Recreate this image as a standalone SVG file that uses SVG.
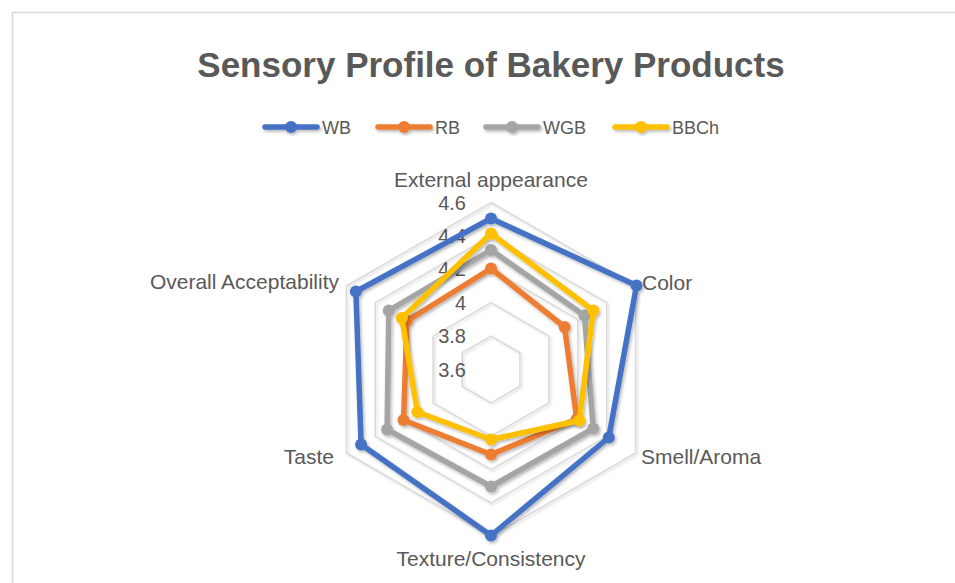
<svg xmlns="http://www.w3.org/2000/svg" width="955" height="583" viewBox="0 0 955 583">
  <defs>
    <filter id="shadow" x="-20%" y="-20%" width="140%" height="140%">
      <feDropShadow dx="1.5" dy="2" stdDeviation="1.5" flood-color="#000000" flood-opacity="0.28"/>
    </filter>
    <filter id="gshadow" x="-20%" y="-20%" width="140%" height="140%">
      <feDropShadow dx="1.5" dy="1.5" stdDeviation="1" flood-color="#000000" flood-opacity="0.15"/>
    </filter>
  </defs>
  <style>
    text { font-family: "Liberation Sans", Arial, sans-serif; fill: #595959; }
    .title { font-size: 35px; font-weight: bold; }
    .leg { font-size: 18px; }
    .cat { font-size: 21px; }
    .axis { font-size: 20px; text-anchor: end; }
    .grid { fill: none; stroke: #d9d9d9; stroke-width: 1.5; }
    .series { fill: none; stroke-width: 5.5; stroke-linejoin: round; stroke-linecap: round; }
    .wb { stroke: #4472C4; }
    .rb { stroke: #ED7D31; }
    .wgb { stroke: #A5A5A5; }
    .bbch { stroke: #FFC000; }
    .mwb { fill: #4472C4; }
    .mrb { fill: #ED7D31; }
    .mwgb { fill: #A5A5A5; }
    .mbbch { fill: #FFC000; }
  </style>

  <rect x="0" y="0" width="955" height="583" fill="#ffffff"/>
  <rect x="12.5" y="12.5" width="960" height="600" fill="#ffffff" stroke="#d9d9d9" stroke-width="1.5"/>

  <g id="title">
    <text class="title" x="491" y="77" text-anchor="middle">Sensory Profile of Bakery Products</text>
  </g>

  <g id="legend">
    <g id="legend-wb" filter="url(#shadow)">
      <line class="series wb" x1="265" y1="127" x2="317" y2="127"/>
      <circle class="mwb" cx="291" cy="127" r="6"/>
    </g>
    <text class="leg" x="322" y="133.5">WB</text>
    <g id="legend-rb" filter="url(#shadow)">
      <line class="series rb" x1="378" y1="127" x2="430" y2="127"/>
      <circle class="mrb" cx="404" cy="127" r="6"/>
    </g>
    <text class="leg" x="435" y="133.5">RB</text>
    <g id="legend-wgb" filter="url(#shadow)">
      <line class="series wgb" x1="486" y1="127" x2="538" y2="127"/>
      <circle class="mwgb" cx="512" cy="127" r="6"/>
    </g>
    <text class="leg" x="543" y="133.5">WGB</text>
    <g id="legend-bbch" filter="url(#shadow)">
      <line class="series bbch" x1="615" y1="127" x2="667" y2="127"/>
      <circle class="mbbch" cx="641" cy="127" r="6"/>
    </g>
    <text class="leg" x="672" y="133.5">BBCh</text>
  </g>

  <g id="gridlines" filter="url(#gshadow)">
    <polygon class="grid" points="491,336.1 519.9,352.8 519.9,386.2 491,402.9 462.1,386.2 462.1,352.8"/>
    <polygon class="grid" points="491,302.7 548.85,336.1 548.85,402.9 491,436.3 433.15,402.9 433.15,336.1"/>
    <polygon class="grid" points="491,269.3 577.8,319.4 577.8,419.6 491,469.7 404.2,419.6 404.2,319.4"/>
    <polygon class="grid" points="491,235.9 606.7,302.7 606.7,436.3 491,503.1 375.3,436.3 375.3,302.7"/>
    <polygon class="grid" points="491,202.5 635.6,286 635.6,453 491,536.5 346.4,453 346.4,286"/>
  </g>

  <g id="axis-labels">
    <text class="axis" x="466" y="209.5">4.6</text>
    <text class="axis" x="466" y="242.9">4.4</text>
    <text class="axis" x="466" y="276.3">4.2</text>
    <text class="axis" x="466" y="309.7">4</text>
    <text class="axis" x="466" y="343.1">3.8</text>
    <text class="axis" x="466" y="376.5">3.6</text>
  </g>

  <g id="categories">
    <text class="cat" x="491" y="187" text-anchor="middle">External appearance</text>
    <text class="cat" x="642" y="290">Color</text>
    <text class="cat" x="641" y="464">Smell/Aroma</text>
    <text class="cat" x="491" y="566" text-anchor="middle">Texture/Consistency</text>
    <text class="cat" x="334" y="464" text-anchor="end">Taste</text>
    <text class="cat" x="339" y="289" text-anchor="end">Overall Acceptability</text>
  </g>

  <g id="connectors">
    <g id="series-wb" filter="url(#shadow)">
      <polygon class="series wb" points="491,218.5 636.5,285.5 608.8,437.5 491,535.5 361.1,444.5 355.9,291.5"/>
      <g class="mwb">
        <circle cx="491" cy="218.5" r="6"/>
        <circle cx="636.5" cy="285.5" r="6"/>
        <circle cx="608.8" cy="437.5" r="6"/>
        <circle cx="491" cy="535.5" r="6"/>
        <circle cx="361.1" cy="444.5" r="6"/>
        <circle cx="355.9" cy="291.5" r="6"/>
      </g>
    </g>
    <g id="series-rb" filter="url(#shadow)">
      <polygon class="series rb" points="491,268.5 564.6,327 576.7,419 491,454.5 403.5,420 407,321"/>
      <g class="mrb">
        <circle cx="491" cy="268.5" r="6"/>
        <circle cx="564.6" cy="327" r="6"/>
        <circle cx="576.7" cy="419" r="6"/>
        <circle cx="491" cy="454.5" r="6"/>
        <circle cx="403.5" cy="420" r="6"/>
        <circle cx="407" cy="321" r="6"/>
      </g>
    </g>
    <g id="series-wgb" filter="url(#shadow)">
      <polygon class="series wgb" points="491,250 584.5,315.5 593.2,428.5 491,486.5 387.1,429.5 388.8,310.5"/>
      <g class="mwgb">
        <circle cx="491" cy="250" r="6"/>
        <circle cx="584.5" cy="315.5" r="6"/>
        <circle cx="593.2" cy="428.5" r="6"/>
        <circle cx="491" cy="486.5" r="6"/>
        <circle cx="387.1" cy="429.5" r="6"/>
        <circle cx="388.8" cy="310.5" r="6"/>
      </g>
    </g>
    <g id="series-bbch" filter="url(#shadow)">
      <polygon class="series bbch" points="491,233.5 593.2,310.5 579.3,420.5 491,439.5 417.4,412 401.8,318"/>
      <g class="mbbch">
        <circle cx="491" cy="233.5" r="6"/>
        <circle cx="593.2" cy="310.5" r="6"/>
        <circle cx="579.3" cy="420.5" r="6"/>
        <circle cx="491" cy="439.5" r="6"/>
        <circle cx="417.4" cy="412" r="6"/>
        <circle cx="401.8" cy="318" r="6"/>
      </g>
    </g>
  </g>
</svg>
